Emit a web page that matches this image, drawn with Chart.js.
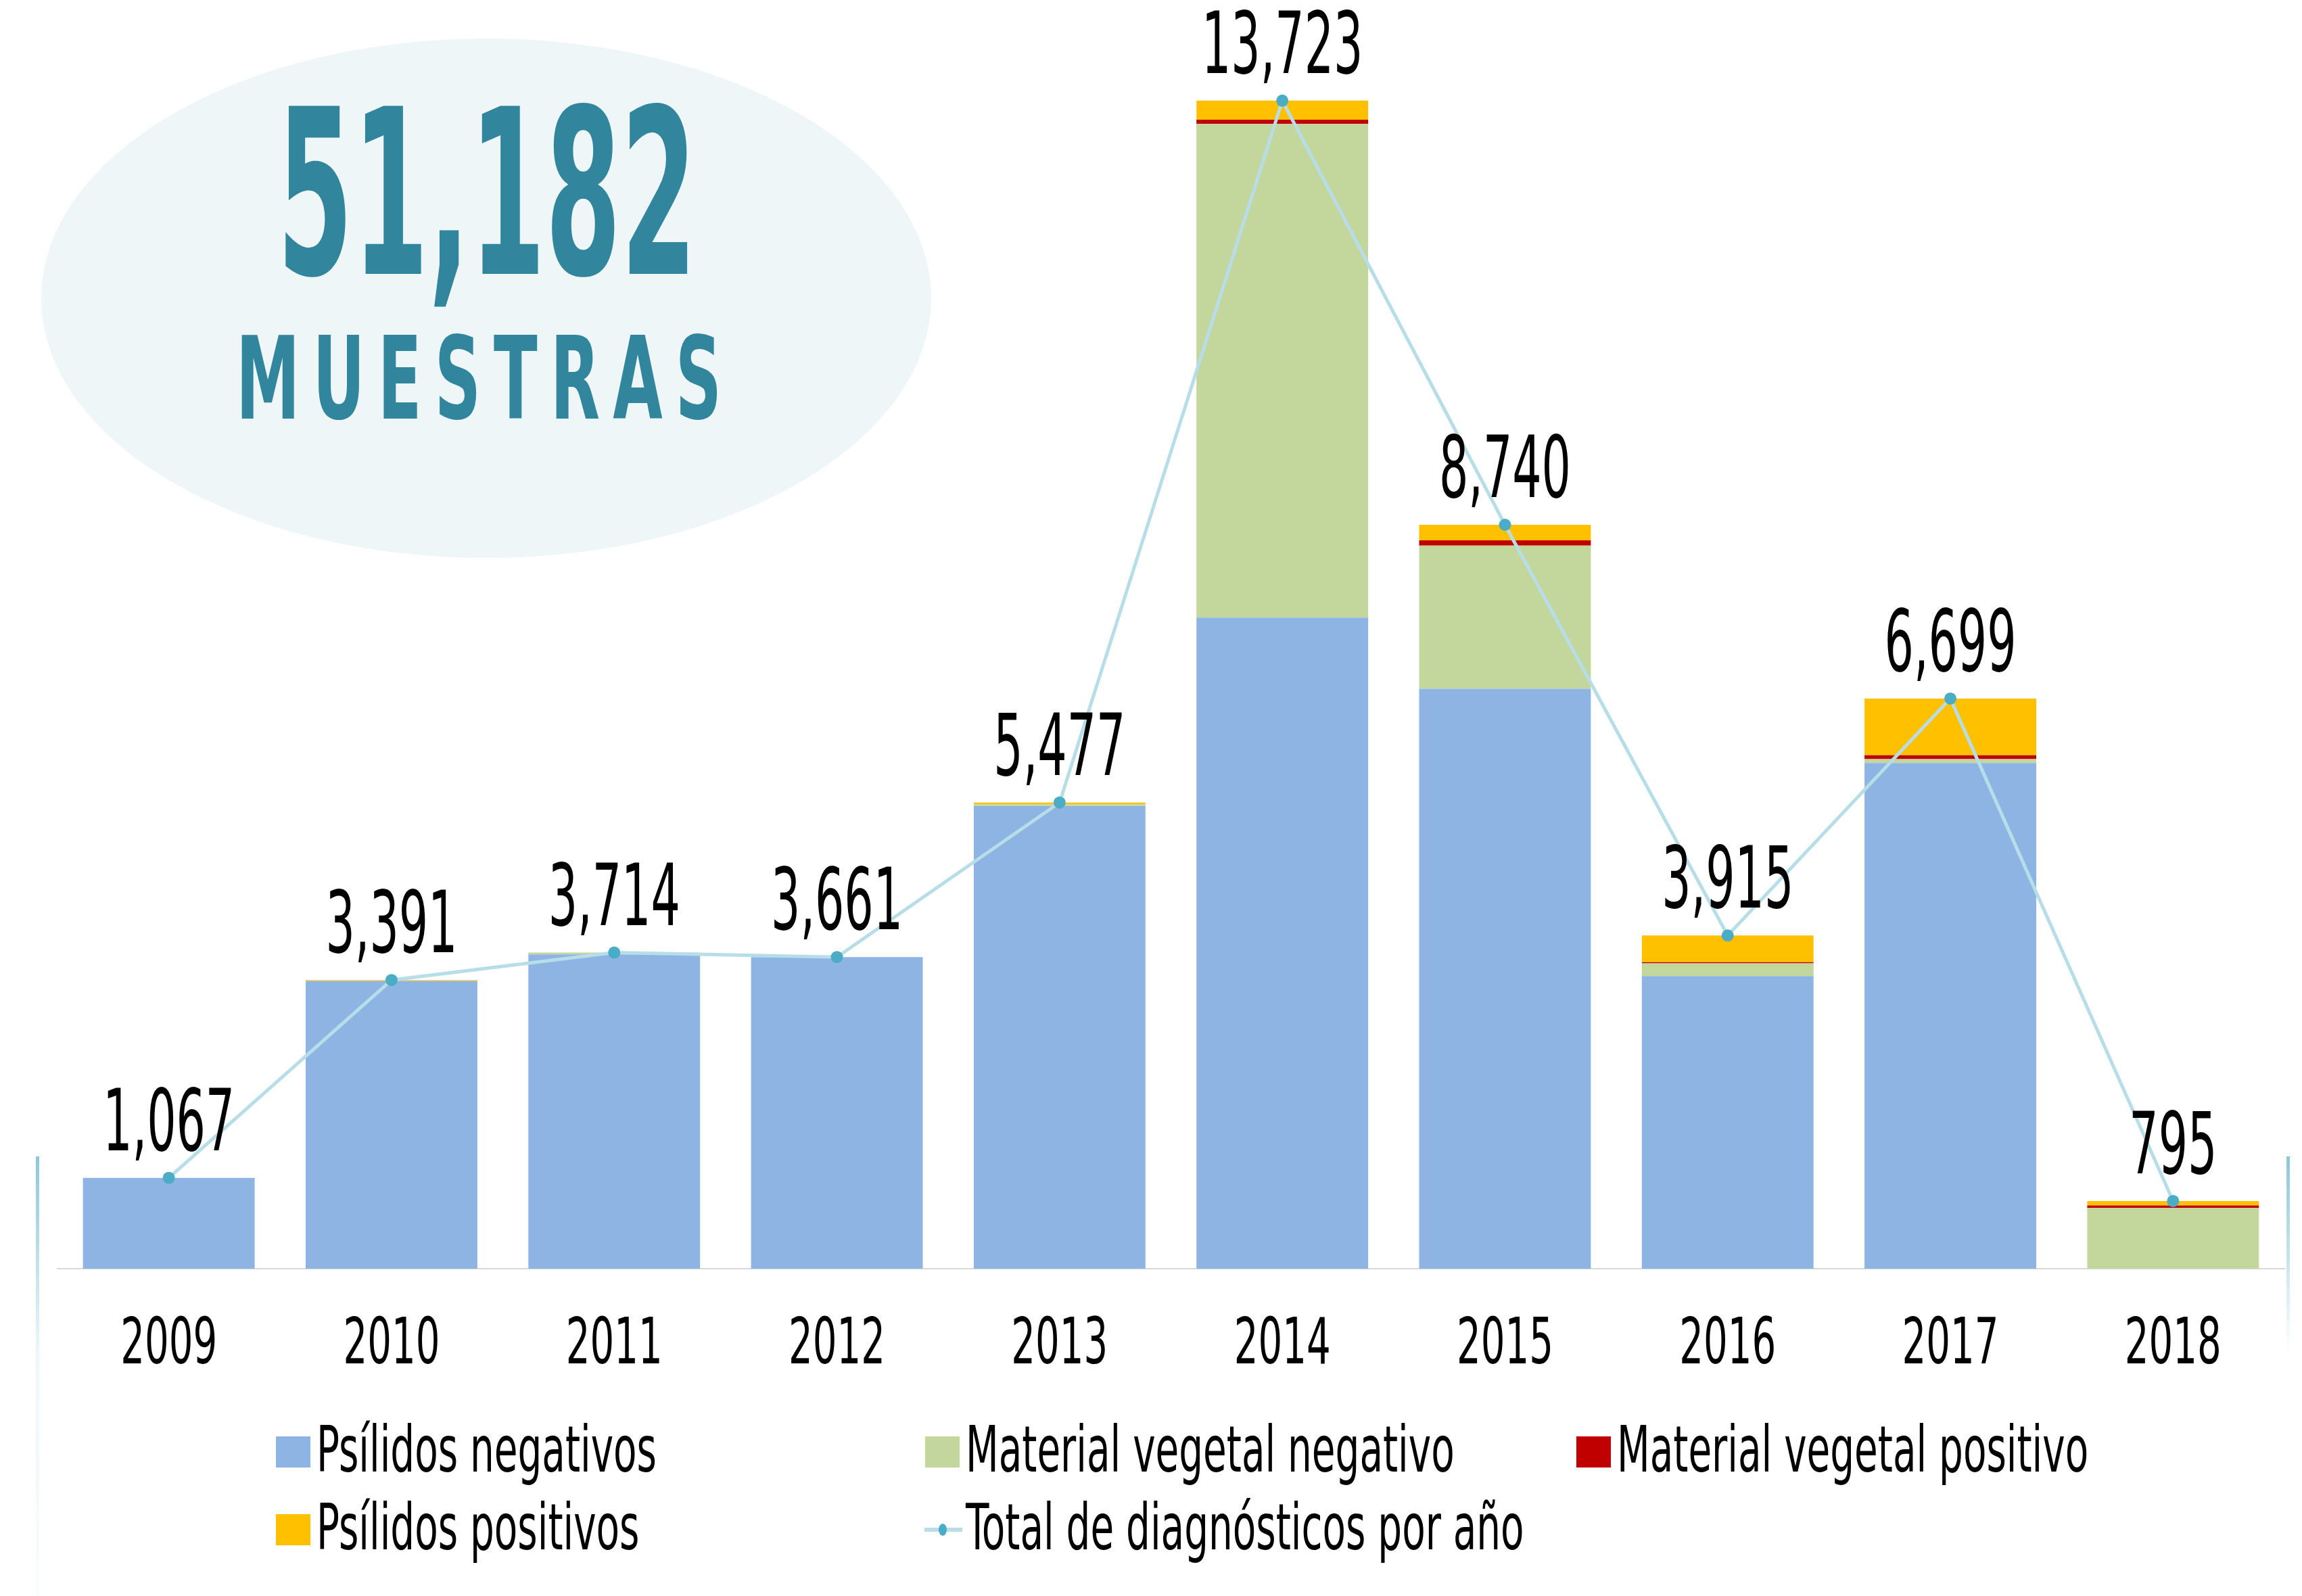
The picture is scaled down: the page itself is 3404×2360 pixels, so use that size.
<!DOCTYPE html>
<html>
<head>
<meta charset="utf-8">
<script src="https://cdn.jsdelivr.net/npm/chart.js@4.4.1/dist/chart.umd.min.js"></script>
<style>
  html, body { margin: 0; padding: 0; background: #ffffff; }
  #wrap { width: 3404px; height: 2360px; }
</style>
</head>
<body>
<div id="wrap"><canvas id="c" width="3404" height="2360"></canvas></div>
<script>
// ---------------- DATA ----------------
const years = ['2009', '2010', '2011', '2012', '2013', '2014', '2015', '2016', '2017', '2018'];
const psilidosNegativos = [1067, 3381, 3692, 3661, 5435, 7649, 6813, 3439, 5942, 0];
const materialVegetalNegativo = [0, 0, 22, 0, 21, 5801, 1683, 148, 45, 713];
const materialVegetalPositivo = [0, 0, 0, 0, 0, 50, 61, 15, 46, 30];
const psilidosPositivos = [0, 10, 0, 0, 21, 223, 183, 313, 666, 52];
const totalDiagnosticos = [1067, 3391, 3714, 3661, 5477, 13723, 8740, 3915, 6699, 795];
const seriesNames = ['Psílidos negativos', 'Material vegetal negativo', 'Material vegetal positivo',
                     'Psílidos positivos', 'Total de diagnósticos por año'];
const bigNumber = '51,182';
const bigWord = 'MUESTRAS';

// ---------------- STYLE ----------------
const FONT = '"Liberation Sans Narrow", "Arial Narrow", "DejaVu Sans Condensed", sans-serif';
const COLORS = ['#8EB4E3', '#C3D69B', '#C00000', '#FFC000'];
const LINE_COLOR = '#B7DEE8';
const POINT_COLOR = '#4BACC6';
const TITLE_COLOR = '#31859C';

function drawSquished(ctx, text, x, y, sx) {
  ctx.save();
  ctx.translate(x, y);
  ctx.scale(sx, 1);
  ctx.fillText(text, 0, 0);
  ctx.restore();
}

const backgroundPlugin = {
  id: 'bgDecor',
  beforeDraw(chart) {
    const ctx = chart.ctx;
    ctx.save();
    ctx.fillStyle = '#ffffff';
    ctx.fillRect(0, 0, chart.width, chart.height);
    // ellipse
    ctx.fillStyle = '#EEF6F8';
    ctx.beginPath();
    ctx.ellipse(719, 441, 658, 384, 0, 0, Math.PI * 2);
    ctx.fill();
    // big number
    ctx.fillStyle = TITLE_COLOR;
    ctx.textAlign = 'center';
    ctx.textBaseline = 'alphabetic';
    ctx.font = 'bold 341px ' + FONT;
    const w1 = ctx.measureText(bigNumber).width;
    drawSquished(ctx, bigNumber, 720, 405, 620 / w1);
    // word with spacing
    ctx.font = 'bold 170px ' + FONT;
    const chars = bigWord.split('');
    const sxW = 0.62;
    const widths = chars.map(ch => ctx.measureText(ch).width * sxW);
    const totalW = widths.reduce((a, b) => a + b, 0);
    const gap = (718 - totalW) / (chars.length - 1);
    let cx = 349;
    ctx.textAlign = 'left';
    chars.forEach((ch, i) => {
      drawSquished(ctx, ch, cx, 619, sxW);
      cx += widths[i] + gap;
    });
    // decorative vertical lines
    const g1 = ctx.createLinearGradient(0, 1710, 0, 2360);
    g1.addColorStop(0, 'rgba(140,200,216,1)');
    g1.addColorStop(0.45, 'rgba(140,200,216,0.15)');
    g1.addColorStop(1, 'rgba(140,200,216,0.05)');
    ctx.fillStyle = g1;
    ctx.fillRect(53, 1710, 5, 650);
    const g2 = ctx.createLinearGradient(0, 1710, 0, 2000);
    g2.addColorStop(0, 'rgba(140,200,216,1)');
    g2.addColorStop(1, 'rgba(140,200,216,0)');
    ctx.fillStyle = g2;
    ctx.fillRect(3381, 1710, 5, 290);
    ctx.restore();
  }
};

// draws the x scale's own tick labels in a condensed face, at the scale's tick pixels
const condensedTicksPlugin = {
  id: 'condensedTicks',
  afterDraw(chart) {
    const ctx = chart.ctx;
    const xs = chart.scales.x;
    ctx.save();
    ctx.fillStyle = '#000000';
    ctx.font = '95px ' + FONT;
    ctx.textAlign = 'center';
    ctx.textBaseline = 'alphabetic';
    const sx = 143 / ctx.measureText('2009').width;
    xs.ticks.forEach((t, i) => {
      const label = xs.getLabelForValue(t.value);
      drawSquished(ctx, label, xs.getPixelForTick(i), 2016, sx);
    });
    ctx.restore();
  }
};

const totalsLabelPlugin = {
  id: 'totalsLabels',
  afterDatasetsDraw(chart) {
    const ctx = chart.ctx;
    const meta = chart.getDatasetMeta(4);
    ctx.save();
    ctx.fillStyle = '#000000';
    ctx.font = '127px ' + FONT;
    ctx.textAlign = 'center';
    ctx.textBaseline = 'alphabetic';
    const ref = ctx.measureText('8,740').width;
    const sx = 195 / ref;
    meta.data.forEach((pt, i) => {
      const txt = totalDiagnosticos[i].toLocaleString('en-US');
      drawSquished(ctx, txt, pt.x, pt.y - 41, sx);
    });
    ctx.restore();
  }
};

const customLegendPlugin = {
  id: 'customLegend',
  afterDraw(chart) {
    const ctx = chart.ctx;
    const colX = [408, 1368, 2331];
    const rowBase = [2176, 2291];
    ctx.save();
    ctx.font = '95px ' + FONT;
    ctx.textAlign = 'left';
    ctx.textBaseline = 'alphabetic';
    const sx = 503 / ctx.measureText(seriesNames[0]).width;
    chart.data.datasets.forEach((ds, i) => {
      const col = i % 3, row = Math.floor(i / 3);
      const x = colX[col], base = rowBase[row];
      const boxTop = base - 52;
      if (ds.type === 'line') {
        const cy = boxTop + 23;
        ctx.strokeStyle = LINE_COLOR;
        ctx.lineWidth = 6;
        ctx.beginPath();
        ctx.moveTo(x - 1, cy);
        ctx.lineTo(x + 55, cy);
        ctx.stroke();
        ctx.fillStyle = POINT_COLOR;
        ctx.beginPath();
        ctx.ellipse(x + 26, cy, 6, 9, 0, 0, Math.PI * 2);
        ctx.fill();
      } else {
        ctx.fillStyle = ds.backgroundColor;
        ctx.fillRect(x, boxTop, 51, 46);
      }
      ctx.fillStyle = '#000000';
      drawSquished(ctx, ds.label, x + 60, base, sx);
    });
    ctx.restore();
  }
};

const barCommon = { barPercentage: 0.771, categoryPercentage: 1.0, borderWidth: 0, order: 2, stack: 'muestras' };

new Chart(document.getElementById('c'), {
  type: 'bar',
  data: {
    labels: years,
    datasets: [
      Object.assign({ label: seriesNames[0], data: psilidosNegativos, backgroundColor: COLORS[0] }, barCommon),
      Object.assign({ label: seriesNames[1], data: materialVegetalNegativo, backgroundColor: COLORS[1] }, barCommon),
      Object.assign({ label: seriesNames[2], data: materialVegetalPositivo, backgroundColor: COLORS[2] }, barCommon),
      Object.assign({ label: seriesNames[3], data: psilidosPositivos, backgroundColor: COLORS[3] }, barCommon),
      {
        type: 'line', label: seriesNames[4], data: totalDiagnosticos, stack: 'total', order: 0,
        borderColor: LINE_COLOR, borderWidth: 5, tension: 0, fill: false,
        pointRadius: 9, pointBackgroundColor: POINT_COLOR, pointBorderWidth: 0, pointBorderColor: POINT_COLOR
      }
    ]
  },
  options: {
    responsive: false,
    animation: false,
    devicePixelRatio: 1,
    layout: { padding: { left: 85, right: 26, top: 114, bottom: 0 } },
    plugins: { legend: { display: false }, tooltip: { enabled: false } },
    scales: {
      x: {
        stacked: true,
        grid: { display: false, drawTicks: false },
        border: { display: true, color: '#D9D9D9', width: 2 },
        ticks: { display: false, font: { family: FONT, size: 95 } },
        afterFit(scale) { scale.height = 484; }
      },
      y: { stacked: true, display: false, min: 0, max: 14000 }
    }
  },
  plugins: [backgroundPlugin, condensedTicksPlugin, totalsLabelPlugin, customLegendPlugin]
});
</script>
</body>
</html>
